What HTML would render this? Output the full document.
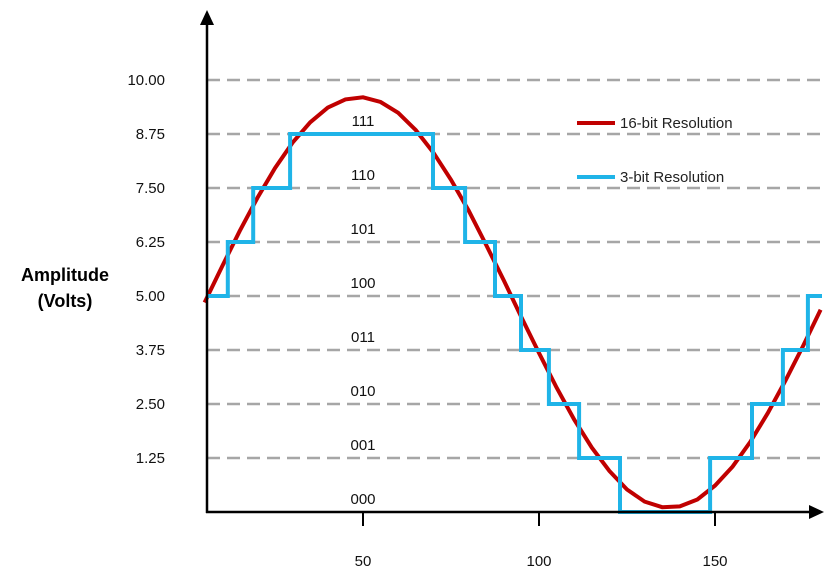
<!DOCTYPE html>
<html><head><meta charset="utf-8"><style>
html,body{margin:0;padding:0;background:#fff;}
svg{display:block;font-family:"Liberation Sans",Arial,sans-serif;}
</style></head><body>
<svg id="chart" width="840" height="578" viewBox="0 0 840 578">
<g id="grid"></g>
<g id="ylabels"></g>
<g id="codes"></g>
<g id="xticks"></g>
<text x="65" y="281" text-anchor="middle" font-size="18" font-weight="bold" fill="#000">Amplitude</text>
<text x="65" y="307" text-anchor="middle" font-size="18" font-weight="bold" fill="#000">(Volts)</text>
<path id="red" fill="none" stroke="#c00000" stroke-width="4"/>
<path id="blue" fill="none" stroke="#1fb4e8" stroke-width="4"/>
<line x1="207" y1="513" x2="207" y2="22" stroke="#000" stroke-width="2.5"/>
<polygon points="207,10 200,25 214,25" fill="#000"/>
<line x1="206" y1="512" x2="812" y2="512" stroke="#000" stroke-width="2.5"/>
<polygon points="824,512 809,505 809,519" fill="#000"/>
<g>
<line x1="577" y1="123" x2="615" y2="123" stroke="#c00000" stroke-width="4"/>
<text x="620" y="128" font-size="15" fill="#222">16-bit Resolution</text>
<line x1="577" y1="177" x2="615" y2="177" stroke="#1fb4e8" stroke-width="4"/>
<text x="620" y="182" font-size="15" fill="#222">3-bit Resolution</text>
</g>
</svg>
<script>
const yTicks=[1.25,2.5,3.75,5,6.25,7.5,8.75,10];
const yTickLabels=["1.25","2.50","3.75","5.00","6.25","7.50","8.75","10.00"];
const codeLabels=["000","001","010","011","100","101","110","111"];
const xTicks=[50,100,150];
const redX=[5,10,15,20,25,30,35,40,45,50,55,60,65,70,75,80,85,90,95,100,105,110,115,120,125,130,135,140,145,150,155,160,165,170,175,180];
const redY=[4.85,5.69,6.51,7.27,7.96,8.55,9.02,9.36,9.55,9.60,9.49,9.24,8.84,8.32,7.69,6.98,6.18,5.36,4.51,3.68,2.88,2.14,1.49,0.95,0.52,0.24,0.11,0.13,0.29,0.61,1.05,1.62,2.29,3.04,3.84,4.68];
const stepX=[5.7,11.6,18.8,29.3,69.9,79,87.5,94.9,102.8,111.4,123,148.6,160.5,169.3,176.4,180.4];
const stepY=[5,6.25,7.5,8.75,7.5,6.25,5,3.75,2.5,1.25,0,1.25,2.5,3.75,5];
const NS="http://www.w3.org/2000/svg";
const sx=v=>187+v*3.52, sy=v=>512-v*43.2;
function mk(tag,attrs,parent,txt){const e=document.createElementNS(NS,tag);for(const k in attrs)e.setAttribute(k,attrs[k]);if(txt!==undefined)e.textContent=txt;parent.appendChild(e);return e;}
const grid=document.getElementById('grid'),yl=document.getElementById('ylabels'),codes=document.getElementById('codes'),xt=document.getElementById('xticks');
yTicks.forEach((t,i)=>{
 const l=mk('line',{x1:207,x2:822,y1:sy(t),y2:sy(t),stroke:'#a6a6a6','stroke-width':2.5,'stroke-dasharray':'13,7'},grid);
 
 
 const tx=mk('text',{x:165,y:sy(t)+5,'text-anchor':'end','font-size':15,fill:'#111'},yl,yTickLabels[i]);
 
 
});
codeLabels.forEach((c,i)=>{
 const tx=mk('text',{x:sx(50),y:sy(i*1.25)-8,'text-anchor':'middle','font-size':15,fill:'#111'},codes,c);
 
 
});
xTicks.forEach(t=>{
 const l=mk('line',{x1:sx(t),x2:sx(t),y1:512,y2:526,stroke:'#000','stroke-width':2},xt);
 
 
 const tx=mk('text',{x:sx(t),y:566,'text-anchor':'middle','font-size':15,fill:'#111'},xt,String(t));
 
 
});
document.getElementById('red').setAttribute('d',redX.map((x,i)=>(i?'L':'M')+sx(x).toFixed(1)+','+sy(redY[i]).toFixed(1)).join(''));
let d='';
stepY.forEach((v,i)=>{d+=(i?'L':'M')+sx(stepX[i]).toFixed(1)+','+sy(v).toFixed(1)+'L'+sx(stepX[i+1]).toFixed(1)+','+sy(v).toFixed(1);});
document.getElementById('blue').setAttribute('d',d);
</script>
</body></html>
